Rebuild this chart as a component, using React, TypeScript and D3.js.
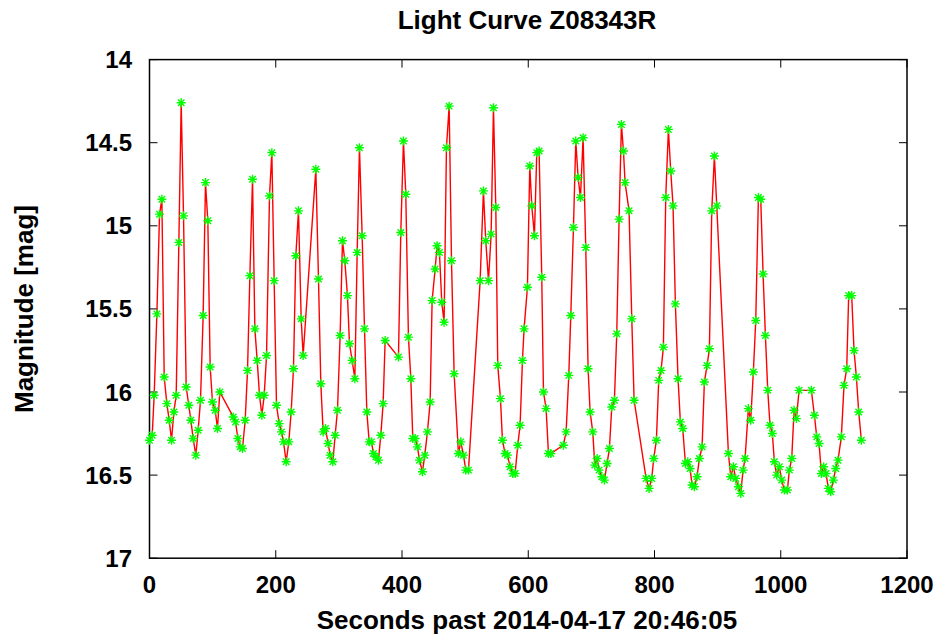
import React from "react";
import * as d3 from "d3";

const seconds: number[] = [
  0, 4.3, 7.4, 11.7, 15.9, 19.6, 23.3, 27.5, 31.2, 34.9, 38.6, 42.3, 46.5, 50.2, 53.9, 58.1, 62.3, 65.5, 69.2, 73.4,
  77.1, 80.8, 85.0, 88.7, 92.4, 96.1, 99.8, 104.1, 107.7, 111.4, 132.6, 136.3, 140.0, 143.6, 147.3, 151.6, 155.3, 159.0,
  163.2, 166.9, 170.6, 174.3, 178.0, 181.7,
  185.4, 190.1, 193.8, 197.5, 201.2, 205.4, 209.1, 212.3, 216.5, 220.7, 224.4, 228.1, 231.8, 236.0, 240.3, 243.4,
  263.5, 267.7, 271.4, 275.1, 278.8, 283.0, 286.2, 290.4, 294.1, 297.8, 302.0, 305.7, 309.4, 313.6, 316.8, 321.0,
  325.3, 329.0, 332.6, 336.9, 340.6, 344.3, 348.0, 351.6, 354.8, 358.5, 362.7, 366.4, 370.1, 373.3,
  394.4, 398.1, 402.3, 406.0, 410.2, 414.0, 417.1, 420.8, 424.5, 427.7, 432.4, 436.1, 440.3, 444.6, 447.7, 452.5,
  455.6, 459.3, 463.0, 466.7, 470.4, 474.7, 478.4, 482.6, 489.4, 493.1, 497.4, 501.1, 505.3, 523.8, 529.0, 532.7,
  537.0, 541.2, 544.9, 548.6, 551.7, 556.0, 559.1, 563.3,
  567.0, 571.3, 575.5, 579.2, 583.4, 587.1, 590.8, 593.4, 598.7, 602.4, 605.6, 609.8, 613.5, 617.2, 621.4, 624.1,
  628.3, 632.0, 635.7, 655.7, 660.0, 664.2, 667.4, 671.6, 675.3, 679.0, 682.7, 686.9, 691.1, 694.8, 698.0, 702.2,
  705.4, 709.1, 712.2, 716.5, 720.7, 724.9, 728.6, 732.3, 736.5, 740.2, 743.9, 747.6, 750.8, 753.4,
  759.7, 764.0, 767.7, 786.7, 791.4, 795.6, 798.8, 803.0, 806.7, 810.4, 814.1, 817.8, 822.0, 825.7, 829.4, 833.1,
  837.3, 841.0, 844.7, 849.0, 852.7, 856.4, 859.5, 863.2, 867.4, 871.1, 875.4, 879.0, 883.3, 887.0, 890.7, 894.9,
  898.6, 917.1, 920.8, 925.0, 928.7, 932.9, 936.6, 940.3, 943.5,
  948.7, 952.4, 956.6, 960.4, 964.6, 968.3, 972.0, 975.7, 979.4, 983.0, 986.7, 989.9, 993.6, 997.8, 1001.5, 1005.7,
  1010.5, 1013.7, 1017.4, 1021.1, 1024.8, 1029.0, 1048.5, 1053.3, 1057.0, 1060.7, 1064.4, 1068.0, 1071.7, 1075.4,
  1079.1, 1083.3, 1087.1, 1090.7, 1096.0, 1100.2, 1104.5, 1107.6, 1112.4, 1116.1, 1119.8, 1123.5, 1127.7,
];

const magnitudes: number[] = [
  16.29, 16.26, 16.02, 15.53, 14.93, 14.84, 15.91, 16.07, 16.17, 16.29, 16.12, 16.02, 15.10, 14.26, 14.94, 15.97, 16.08, 16.17, 16.28, 16.38,
  16.23, 16.05, 15.54, 14.74, 14.97, 15.85, 16.06, 16.11, 16.22, 16.00, 16.15, 16.18, 16.28, 16.33, 16.34, 16.17, 15.87, 15.30,
  14.72, 15.62, 15.81, 16.02, 16.14, 16.02,
  15.78, 14.82, 14.56, 15.33, 16.08, 16.19, 16.24, 16.30, 16.42, 16.30, 16.12, 15.86, 15.18, 14.91, 15.56, 15.78,
  14.66, 15.32, 15.95, 16.24, 16.22, 16.31, 16.38, 16.42, 16.26, 16.11, 15.66, 15.09, 15.21, 15.42, 15.71, 15.81,
  15.92, 15.16, 14.53, 15.06, 15.62, 16.12, 16.30, 16.30, 16.37, 16.39, 16.41, 16.26, 16.07, 15.69,
  15.79, 15.04, 14.49, 14.81, 15.67, 15.92, 16.28, 16.28, 16.33, 16.41, 16.48, 16.38, 16.24, 16.06, 15.45, 15.26,
  15.12, 15.16, 15.46, 15.58, 14.53, 14.28, 15.21, 15.89, 16.37, 16.30, 16.38, 16.47, 16.47, 15.33, 14.79, 15.09,
  15.33, 15.05, 14.29, 14.89, 15.84, 16.04, 16.29, 16.37,
  16.38, 16.45, 16.49, 16.49, 16.32, 16.20, 15.81, 15.62, 15.37, 14.64, 14.88, 15.06, 14.56, 14.55, 15.31, 16.00,
  16.10, 16.37, 16.37, 16.32, 16.24, 15.90, 15.54, 15.01, 14.49, 14.71, 14.83, 14.47, 15.13, 15.86, 16.12, 16.24,
  16.44, 16.40, 16.47, 16.51, 16.53, 16.43, 16.34, 16.09, 16.05, 15.65, 14.96, 14.39, 14.55, 14.74,
  14.91, 15.56, 16.05, 16.52, 16.58, 16.52, 16.40, 16.29, 15.93, 15.87, 15.73, 14.83, 14.42, 14.67, 14.88, 15.47,
  15.92, 16.18, 16.22, 16.43, 16.42, 16.46, 16.56, 16.57, 16.51, 16.40, 16.33, 15.94, 15.84, 15.74, 14.91, 14.58,
  14.88, 16.37, 16.51, 16.45, 16.52, 16.57, 16.61, 16.47, 16.40,
  16.10, 16.17, 15.88, 15.57, 14.83, 14.84, 15.29, 15.66, 15.99, 16.20, 16.25, 16.42, 16.50, 16.45, 16.53, 16.59,
  16.59, 16.47, 16.40, 16.11, 16.16, 15.99, 15.99, 16.14, 16.27, 16.31, 16.49, 16.45, 16.49, 16.58,
  16.60, 16.53, 16.46, 16.41, 16.27, 15.96, 15.86, 15.42, 15.42, 15.75, 15.91, 16.12, 16.29,
];

const xTicks: number[] = [0, 200, 400, 600, 800, 1000, 1200];
const yTicks: number[] = [14, 14.5, 15, 15.5, 16, 16.5, 17];

const title = "Light Curve Z08343R";
const xLabel = "Seconds past 2014-04-17 20:46:05";
const yLabel = "Magnitude [mag]";

const W = 944;
const H = 642;
const left = 149.5;
const right = 907;
const top = 59.6;
const bottom = 558.2;
const FONT = "'Liberation Sans', Arial, Helvetica, sans-serif";

export default function App() {
  const x = d3.scaleLinear().domain([0, 1200]).range([left, right]);
  const y = d3.scaleLinear().domain([14, 17]).range([top, bottom]);
  const pts = seconds.map((s, i) => [s, magnitudes[i]] as [number, number]);
  const line = d3
    .line<[number, number]>()
    .x((d) => x(d[0]))
    .y((d) => y(d[1]));
  const tl = 8;
  const r = 4.5;
  const rd = r * 0.72;
  const star = `M${-r},0H${r}M0,${-r}V${r}M${-rd},${-rd}L${rd},${rd}M${-rd},${rd}L${rd},${-rd}`;
  return (
    <svg
      width={W}
      height={H}
      style={{ position: "absolute", left: 0, top: 0, background: "#fff" }}
      fontFamily={FONT}
      fontWeight="bold"
    >
      <rect x={0} y={0} width={W} height={H} fill="#fff" />
      {xTicks.map((t) => (
        <g key={"xt" + t}>
          <line x1={x(t)} x2={x(t)} y1={bottom} y2={bottom - tl} stroke="#000" strokeWidth={1} />
          <line x1={x(t)} x2={x(t)} y1={top} y2={top + tl} stroke="#000" strokeWidth={1} />
          <text x={x(t)} y={593} textAnchor="middle" fontSize={24} fill="#000">
            {t}
          </text>
        </g>
      ))}
      {yTicks.map((t) => (
        <g key={"yt" + t}>
          <line x1={left} x2={left + tl} y1={y(t)} y2={y(t)} stroke="#000" strokeWidth={1} />
          <line x1={right} x2={right - tl} y1={y(t)} y2={y(t)} stroke="#000" strokeWidth={1} />
          <text x={132} y={y(t) + 8.5} textAnchor="end" fontSize={24} fill="#000">
            {t}
          </text>
        </g>
      ))}
      <rect x={left} y={top} width={right - left} height={bottom - top} fill="none" stroke="#000" strokeWidth={1.5} />
      <path d={line(pts) || ""} fill="none" stroke="#ff0000" strokeWidth={1.4} />
      {pts.map((p, i) => (
        <path
          key={i}
          d={star}
          transform={`translate(${x(p[0])},${y(p[1])})`}
          stroke="#00ff00"
          strokeWidth={1.4}
          fill="none"
        />
      ))}
      <text x={527} y={29} textAnchor="middle" fontSize={26} fill="#000">
        {title}
      </text>
      <text x={527} y={629} textAnchor="middle" fontSize={26} fill="#000">
        {xLabel}
      </text>
      <text transform="translate(33,309) rotate(-90)" textAnchor="middle" fontSize={26} fill="#000">
        {yLabel}
      </text>
    </svg>
  );
}
